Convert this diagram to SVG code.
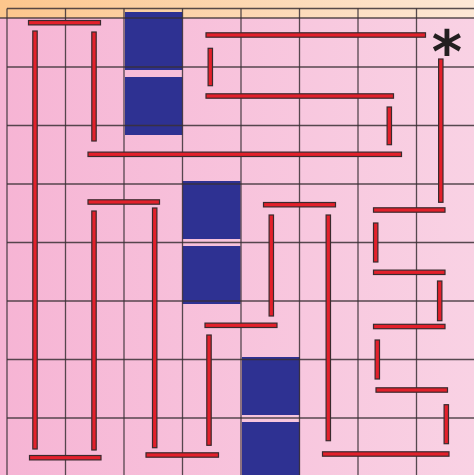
<svg xmlns="http://www.w3.org/2000/svg" width="474" height="475" viewBox="0 0 474 475">
<defs>
<linearGradient id="pink" x1="0" y1="0" x2="1" y2="0">
<stop offset="0" stop-color="#f6b4d4"/>
<stop offset="1" stop-color="#f9d2e4"/>
</linearGradient>
<linearGradient id="orange" x1="0" y1="0" x2="1" y2="0">
<stop offset="0" stop-color="#fcc68c"/>
<stop offset="1" stop-color="#fde8d6"/>
</linearGradient>
</defs>
<style>
.grid line{stroke:#3a3035;stroke-width:1.3;stroke-opacity:0.85}
.blk{fill:#2e3192}
.wall{fill:#e3202b;stroke:#3a2a2e;stroke-width:1.2}
.star{font-family:"DejaVu Sans",sans-serif;font-weight:bold;font-size:58px;fill:#231f20}
</style>
<rect x="0" y="0" width="474" height="475" fill="url(#pink)"/>
<rect x="0" y="0" width="474" height="18" fill="url(#orange)"/>
<g id="blocks">
<rect id="b1" class="blk" x="125" y="12" width="57.5" height="58"/>
<rect id="b2" class="blk" x="125" y="77" width="57.5" height="58"/>
<rect id="b3" class="blk" x="182.5" y="181" width="58" height="58"/>
<rect id="b4" class="blk" x="182.5" y="246" width="58" height="58"/>
<rect id="b5" class="blk" x="242" y="357" width="58" height="58"/>
<rect id="b6" class="blk" x="242" y="422" width="58" height="53"/>
</g>
<g class="grid" id="grid">
<line x1="0" y1="18" x2="474" y2="18"/>
<line x1="7" y1="8.5" x2="474" y2="8.5"/>
<line x1="7" y1="67" x2="474" y2="67"/>
<line x1="7" y1="125.5" x2="474" y2="125.5"/>
<line x1="7" y1="184" x2="474" y2="184"/>
<line x1="7" y1="242.5" x2="474" y2="242.5"/>
<line x1="7" y1="301" x2="474" y2="301"/>
<line x1="7" y1="359.5" x2="474" y2="359.5"/>
<line x1="7" y1="418" x2="474" y2="418"/>
<line x1="7" y1="8.5" x2="7" y2="475"/>
<line x1="65.5" y1="8.5" x2="65.5" y2="475"/>
<line x1="124" y1="8.5" x2="124" y2="475"/>
<line x1="182.5" y1="8.5" x2="182.5" y2="475"/>
<line x1="241" y1="8.5" x2="241" y2="475"/>
<line x1="299.5" y1="8.5" x2="299.5" y2="475"/>
<line x1="358" y1="8.5" x2="358" y2="475"/>
<line x1="416.5" y1="8.5" x2="416.5" y2="475"/>
</g>
<g id="walls">
<rect class="wall" x="28.5" y="20.5" width="72" height="4.4"/>
<rect class="wall" x="206" y="32.8" width="219.5" height="4.4"/>
<rect class="wall" x="206" y="93.8" width="187.5" height="4.4"/>
<rect class="wall" x="88" y="152.1" width="313.5" height="4.4"/>
<rect class="wall" x="88" y="199.8" width="71.5" height="4.4"/>
<rect class="wall" x="263.5" y="202.5" width="72" height="4.4"/>
<rect class="wall" x="373.5" y="207.8" width="71.5" height="4.4"/>
<rect class="wall" x="373.5" y="270.1" width="71.5" height="4.4"/>
<rect class="wall" x="205" y="323.1" width="72" height="4.4"/>
<rect class="wall" x="373.5" y="324.3" width="71.5" height="4.4"/>
<rect class="wall" x="376" y="387.8" width="71.5" height="4.4"/>
<rect class="wall" x="146" y="452.8" width="72.5" height="4.4"/>
<rect class="wall" x="29.5" y="455.5" width="71.5" height="4.4"/>
<rect class="wall" x="322.5" y="451.8" width="126.5" height="4.4"/>
<rect class="wall" x="32.8" y="31" width="4.4" height="418"/>
<rect class="wall" x="91.8" y="32" width="4.4" height="109"/>
<rect class="wall" x="208.1" y="48.3" width="4.4" height="37.4"/>
<rect class="wall" x="387.1" y="107" width="4.4" height="37.7"/>
<rect class="wall" x="438.6" y="59" width="4.4" height="143.3"/>
<rect class="wall" x="91.8" y="211" width="4.4" height="239"/>
<rect class="wall" x="152.5" y="208" width="4.4" height="239.7"/>
<rect class="wall" x="269.1" y="215" width="4.4" height="101"/>
<rect class="wall" x="326.1" y="215" width="4.4" height="225.7"/>
<rect class="wall" x="373.5" y="223" width="4.4" height="39"/>
<rect class="wall" x="437.5" y="281" width="4.4" height="39.7"/>
<rect class="wall" x="206.8" y="335" width="4.4" height="110.3"/>
<rect class="wall" x="375.1" y="340" width="4.4" height="39"/>
<rect class="wall" x="444.1" y="404.7" width="4.4" height="39"/>
</g>
<g id="marker">
<text class="star" x="447" y="72" text-anchor="middle">*</text>
</g>
</svg>
